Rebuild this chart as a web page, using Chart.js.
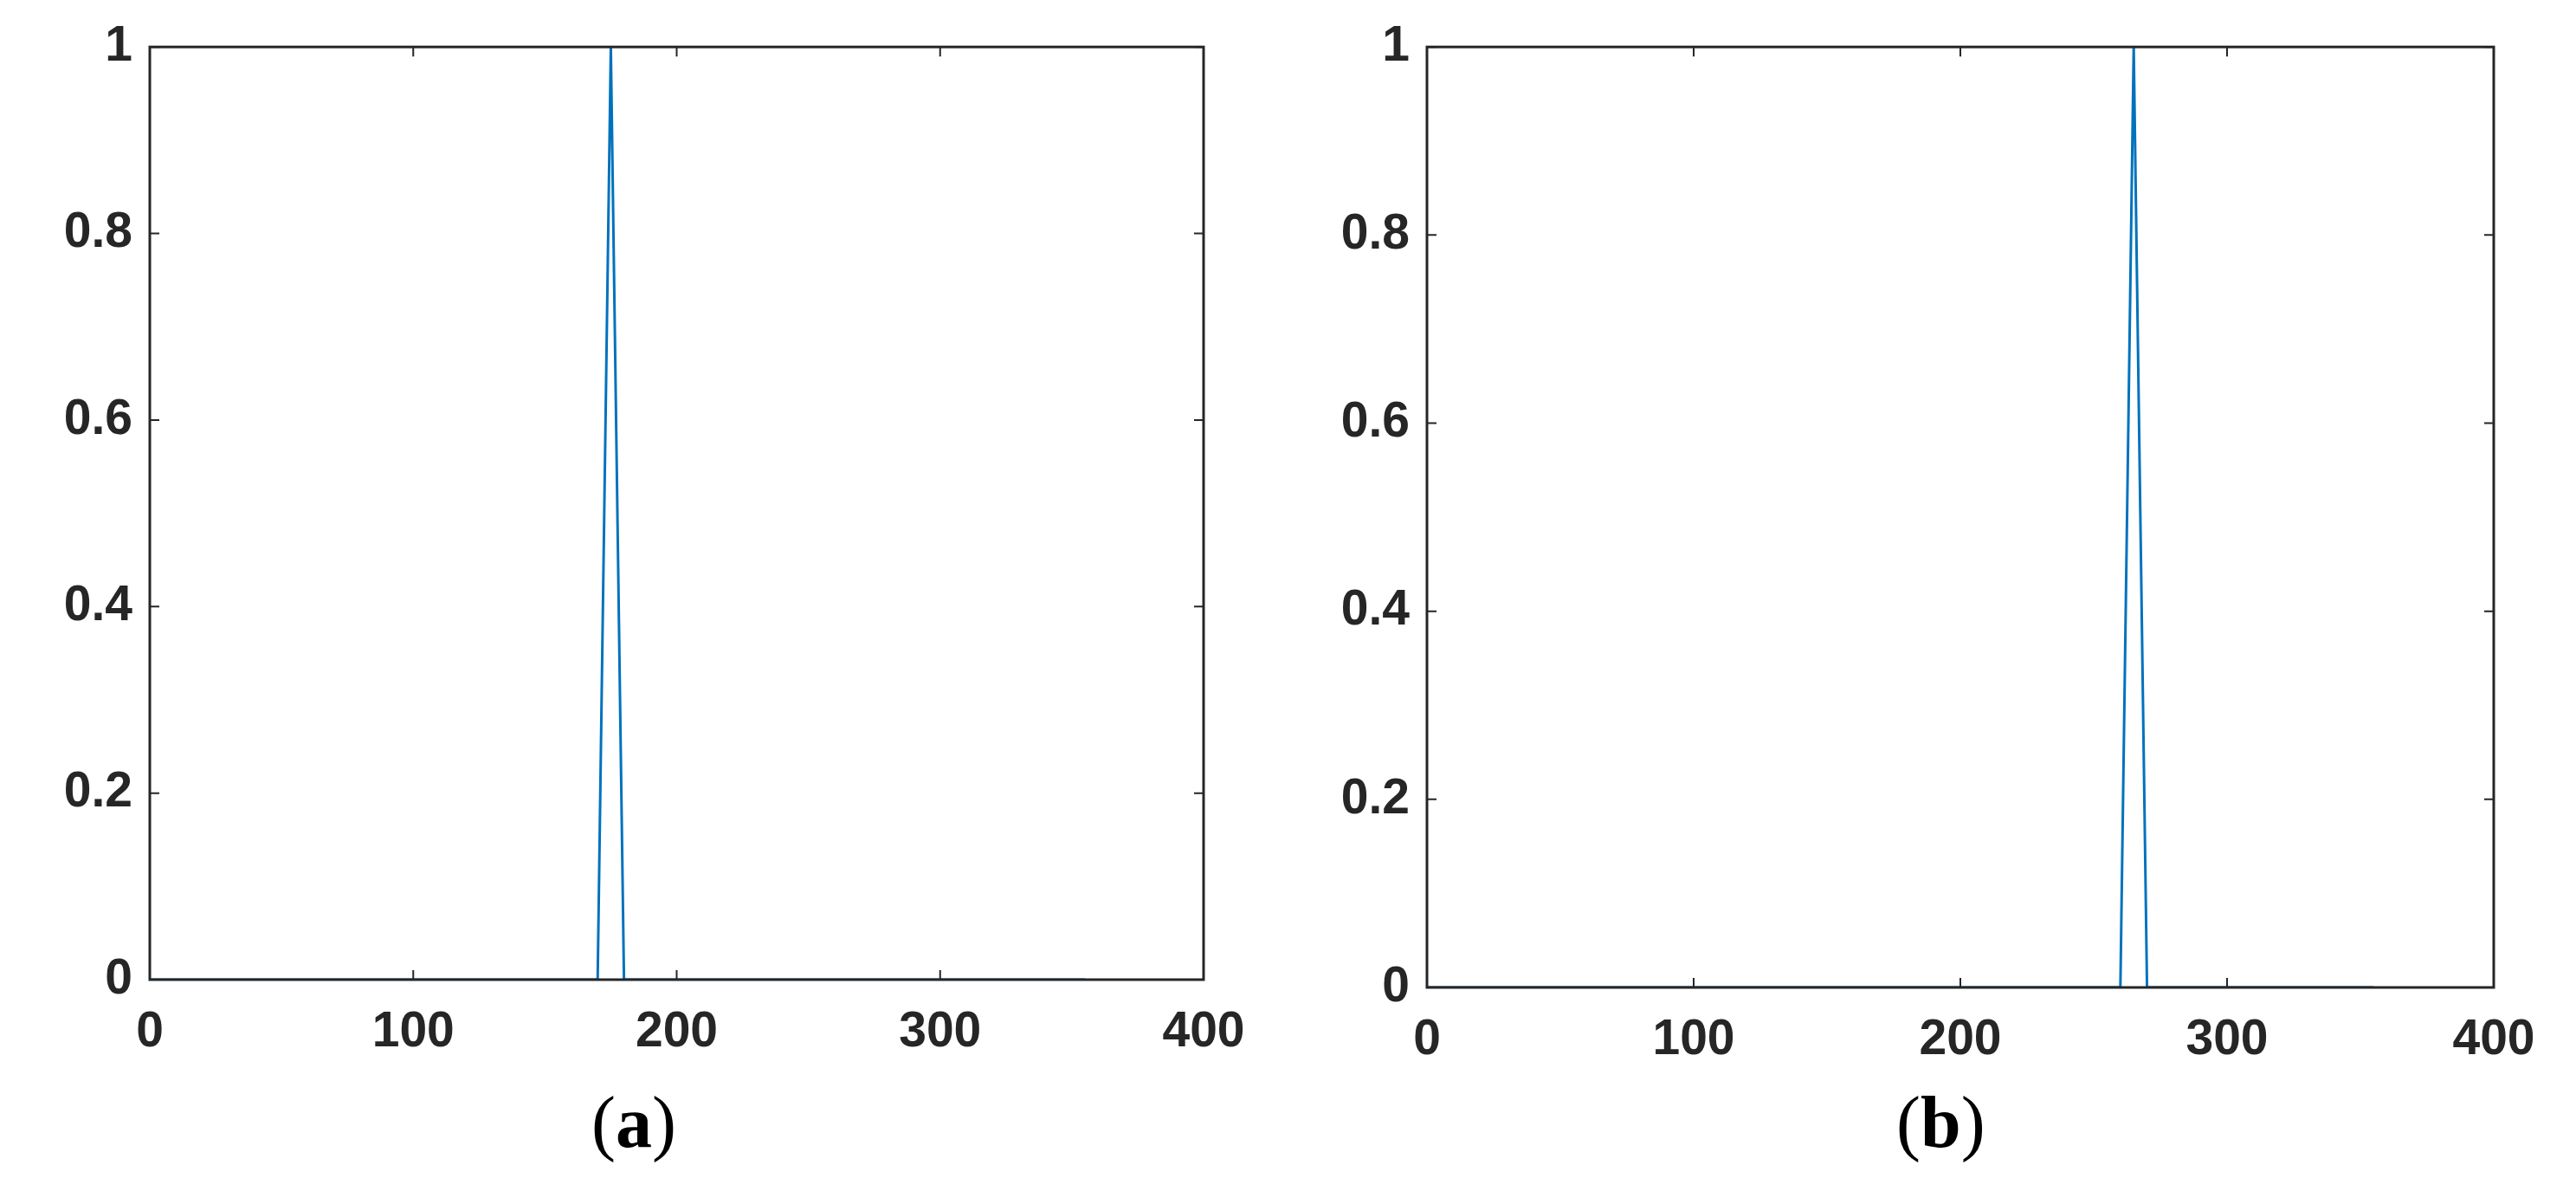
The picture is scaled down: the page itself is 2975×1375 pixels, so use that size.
<!DOCTYPE html>
<html>
<head>
<meta charset="utf-8">
<script src="https://cdn.jsdelivr.net/npm/chart.js@4.4.1/dist/chart.umd.min.js"></script>
<style>
body { margin: 0; background: #fff; width: 2975px; height: 1375px; position: relative; overflow: hidden; }
.box { position: absolute; top: 0; }
.cap { position: absolute; top: 1254px; font-family: "Liberation Serif", "Times New Roman", serif; font-size: 84px; color: #000; line-height: 1; }
.cap b { font-weight: bold; }
</style>
</head>
<body>
<div class="box" style="left:0;width:1480px;height:1240px"><canvas id="chartA"></canvas></div>
<div class="box" style="left:1480px;width:1495px;height:1240px"><canvas id="chartB"></canvas></div>
<div class="cap" id="capA" style="left:683px">(<b>a</b>)</div>
<div class="cap" id="capB" style="left:2190px">(<b>b</b>)</div>
<script>
// only the points where the curve changes
var xA = [0, 170, 175, 180, 355];
var yA = [0, 0, 1, 0, 0];
var xB = [0, 260, 265, 270, 355];
var yB = [0, 0, 1, 0, 0];
var xTicks = [0, 100, 200, 300, 400];
var yTicks = [0, 0.2, 0.4, 0.6, 0.8, 1];

var axisColor = '#262626';
var lineColor = '#0072BD';
var tickFont = { family: '"Liberation Sans", Arial, sans-serif', size: 57, weight: 'bold' };

// MATLAB style box with inward ticks on all four sides
var boxTicks = {
     id: 'boxTicks',
     afterDraw: function (chart) {
          var ctx = chart.ctx, a = chart.chartArea;
          var xs = chart.scales.x, ys = chart.scales.y;
          var len = 11;
          ctx.save();
          ctx.strokeStyle = axisColor;
          ctx.lineWidth = 3;
          ctx.strokeRect(a.left, a.top, a.right - a.left, a.bottom - a.top);
          ctx.lineWidth = 2;
          ctx.beginPath();
          xTicks.forEach(function (v) {
               var px = xs.getPixelForValue(v);
               ctx.moveTo(px, a.bottom); ctx.lineTo(px, a.bottom - len);
               ctx.moveTo(px, a.top); ctx.lineTo(px, a.top + len);
          });
          yTicks.forEach(function (v) {
               var py = ys.getPixelForValue(v);
               ctx.moveTo(a.left, py); ctx.lineTo(a.left + len, py);
               ctx.moveTo(a.right, py); ctx.lineTo(a.right - len, py);
          });
          ctx.stroke();
          ctx.restore();
     }
};

function makeChart(id, xs, ys, yAxisW, xAxisH, padTop, padRight) {
     var pts = xs.map(function (x, i) { return { x: x, y: ys[i] }; });
     return new Chart(document.getElementById(id), {
          type: 'line',
          data: {
               datasets: [{
                    data: pts,
                    borderColor: lineColor,
                    borderWidth: 3,
                    pointRadius: 0,
                    tension: 0,
                    fill: false
               }]
          },
          options: {
               responsive: true,
               maintainAspectRatio: false,
               animation: false,
               events: [],
               layout: { padding: { top: padTop, right: padRight, left: 0, bottom: 0 } },
               plugins: { legend: { display: false }, tooltip: { enabled: false } },
               scales: {
                    x: {
                         type: 'linear', min: 0, max: 400,
                         afterFit: function (s) { s.height = xAxisH; },
                         afterBuildTicks: function (s) { s.ticks = xTicks.map(function (v) { return { value: v }; }); },
                         grid: { display: false, drawTicks: false },
                         border: { display: false },
                         ticks: { font: tickFont, color: axisColor, padding: 27, maxRotation: 0, autoSkip: false }
                    },
                    y: {
                         type: 'linear', min: 0, max: 1,
                         afterFit: function (s) { s.width = yAxisW; },
                         afterBuildTicks: function (s) { s.ticks = yTicks.map(function (v) { return { value: v }; }); },
                         grid: { display: false, drawTicks: false },
                         border: { display: false },
                         ticks: {
                              font: tickFont, color: axisColor, padding: 20, autoSkip: false,
                              callback: function (v) { return String(+Number(v).toFixed(1)); }
                         }
                    }
               }
          },
          plugins: [boxTicks]
     });
}

makeChart('chartA', xA, yA, 173, 109, 54, 90);
makeChart('chartB', xB, yB, 168, 100, 51, 95);
</script>
</body>
</html>
